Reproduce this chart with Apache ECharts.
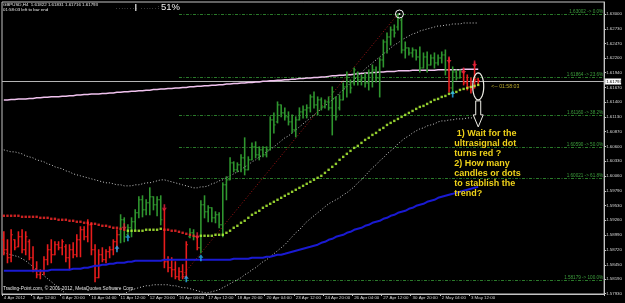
<!DOCTYPE html>
<html><head><meta charset="utf-8">
<script src="https://cdn.jsdelivr.net/npm/echarts@6/dist/echarts.min.js"></script>
<style>html,body{margin:0;padding:0;background:#000;}#c{width:625px;height:303px;}</style>
</head><body><div id="c"></div>
<script>
// ---------------- DATA ----------------
const symbolName = 'GBPUSD,H4';
const timeLeft = '01:58:03';
const xTickLabels = ['4 Apr 2012','5 Apr 12:00','6 Apr 20:00','10 Apr 04:00','11 Apr 12:00','12 Apr 20:00','16 Apr 04:00','17 Apr 12:00','18 Apr 20:00','20 Apr 04:00','23 Apr 12:00','24 Apr 20:00','26 Apr 04:00','27 Apr 12:00','30 Apr 20:00','2 May 04:00','3 May 12:00'];
const yTickValues = [1.57930,1.58190,1.58450,1.58720,1.58990,1.59260,1.59530,1.59790,1.60060,1.60330,1.60600,1.60870,1.61130,1.61400,1.61670,1.61940,1.62200,1.62470,1.62730,1.63000];

const barOpen = [1.58904,1.58723,1.58578,1.58904,1.58777,1.58959,1.58723,1.58868,1.58578,1.58360,
1.58270,1.58324,1.58542,1.58723,1.58632,1.58814,1.58759,1.58777,1.58578,1.58723,
1.58632,1.58904,1.59086,1.58959,1.59176,1.58723,1.58215,1.58632,1.58542,1.58687,
1.58723,1.58868,1.58995,1.59267,1.58995,1.59122,1.59231,1.59394,1.59630,1.59448,
1.59575,1.59684,1.59539,1.59630,1.59448,1.58505,1.58397,1.58360,1.58233,1.58324,
1.58233,1.58959,1.59031,1.58959,1.58759,1.59539,1.59412,1.59485,1.59303,1.59358,
1.59176,1.59902,1.59992,1.60300,1.60174,1.60264,1.60391,1.60174,1.60355,1.60591,
1.60446,1.60536,1.60446,1.60536,1.61080,1.61044,1.61352,1.61207,1.61135,1.61044,
1.60899,1.61080,1.61225,1.61261,1.61298,1.61497,1.61352,1.61443,1.61316,1.61406,
1.61298,1.61479,1.61298,1.61443,1.61678,1.61769,1.61751,1.61932,1.61805,1.61842,
1.61751,1.61932,1.61987,1.61842,1.62168,1.62494,1.62585,1.62712,1.62766,1.62893,
1.62349,1.62386,1.62295,1.62349,1.62222,1.62023,1.62222,1.62077,1.62204,1.62114,
1.62204,1.62259,1.61987,1.61660,1.61950,1.61842,1.61950,1.61751,1.61678,1.61660,
1.61822];
const barHigh = [1.59049,1.58904,1.59086,1.58904,1.59049,1.59086,1.59049,1.58904,1.58777,1.58505,
1.58360,1.58596,1.58814,1.58904,1.58868,1.58868,1.58904,1.58814,1.58814,1.58850,
1.58995,1.59140,1.59140,1.59267,1.59213,1.58814,1.58723,1.58759,1.58723,1.58777,
1.58904,1.59086,1.59358,1.59303,1.59176,1.59303,1.59448,1.59684,1.59702,1.59630,
1.59847,1.59684,1.59684,1.59702,1.59448,1.58596,1.58578,1.58505,1.58397,1.58451,
1.58868,1.59104,1.59086,1.58959,1.59612,1.59702,1.59521,1.59485,1.59412,1.59394,
1.59938,1.60047,1.60391,1.60319,1.60300,1.60446,1.60754,1.60409,1.60663,1.60681,
1.60591,1.60591,1.60591,1.61135,1.61207,1.61406,1.61352,1.61298,1.61225,1.61171,
1.61135,1.61298,1.61334,1.61352,1.61533,1.61588,1.61497,1.61479,1.61443,1.61497,
1.61678,1.61497,1.61533,1.61751,1.61950,1.61805,1.62023,1.61950,1.61896,1.61932,
1.61987,1.62077,1.62041,1.62204,1.62531,1.62658,1.62766,1.62803,1.63002,1.62930,
1.62494,1.62386,1.62386,1.62349,1.62404,1.62295,1.62313,1.62259,1.62295,1.62259,
1.62313,1.62349,1.62204,1.62041,1.61987,1.61987,1.61987,1.61896,1.61842,1.62114,
1.61831];
const barLow = [1.58632,1.58487,1.58505,1.58723,1.58777,1.58669,1.58632,1.58542,1.58324,1.58215,
1.58197,1.58270,1.58451,1.58487,1.58632,1.58723,1.58632,1.58505,1.58360,1.58578,
1.58596,1.58596,1.58904,1.58868,1.58632,1.58143,1.58215,1.58505,1.58487,1.58578,
1.58632,1.58723,1.58850,1.58868,1.58977,1.58959,1.59086,1.59303,1.59321,1.59358,
1.59358,1.59448,1.59340,1.59176,1.58397,1.58324,1.58233,1.58197,1.58179,1.58197,
1.58215,1.58941,1.58904,1.58723,1.58669,1.59303,1.59231,1.59231,1.59213,1.59122,
1.58959,1.59630,1.59992,1.60137,1.60137,1.60137,1.60083,1.60174,1.60355,1.60391,
1.60355,1.60409,1.60409,1.60536,1.60844,1.61026,1.61135,1.61080,1.60989,1.60844,
1.60772,1.61080,1.61116,1.61116,1.61225,1.61298,1.61171,1.61261,1.61298,1.61261,
1.60808,1.61080,1.61261,1.61443,1.61497,1.61570,1.61715,1.61715,1.61715,1.61678,
1.61624,1.61678,1.61769,1.61497,1.62041,1.62295,1.62440,1.62585,1.62712,1.62295,
1.62204,1.62259,1.62222,1.62168,1.61950,1.62023,1.61950,1.62077,1.62023,1.62077,
1.62114,1.61896,1.61588,1.61570,1.61805,1.61842,1.61715,1.61624,1.61570,1.61660,
1.61716];
const barClose = [1.58723,1.58578,1.58995,1.58759,1.58959,1.58723,1.58959,1.58578,1.58360,1.58270,
1.58324,1.58542,1.58723,1.58632,1.58814,1.58759,1.58868,1.58578,1.58723,1.58632,
1.58904,1.59086,1.58959,1.59176,1.58723,1.58215,1.58632,1.58542,1.58687,1.58723,
1.58868,1.58995,1.59267,1.58959,1.59122,1.59231,1.59394,1.59630,1.59448,1.59575,
1.59684,1.59539,1.59630,1.59267,1.58505,1.58397,1.58360,1.58233,1.58324,1.58233,
1.58814,1.59031,1.58959,1.58759,1.59539,1.59412,1.59485,1.59303,1.59358,1.59176,
1.59902,1.59992,1.60300,1.60174,1.60264,1.60391,1.60174,1.60355,1.60591,1.60446,
1.60536,1.60446,1.60536,1.61080,1.60989,1.61352,1.61207,1.61135,1.61044,1.60899,
1.61080,1.61225,1.61261,1.61298,1.61497,1.61352,1.61443,1.61316,1.61406,1.61298,
1.61588,1.61135,1.61443,1.61678,1.61896,1.61660,1.61987,1.61805,1.61842,1.61751,
1.61932,1.61987,1.61842,1.62168,1.62494,1.62585,1.62712,1.62658,1.62930,1.62349,
1.62386,1.62295,1.62349,1.62222,1.62023,1.62222,1.62077,1.62204,1.62114,1.62204,
1.62259,1.61987,1.61660,1.61950,1.61842,1.61950,1.61751,1.61678,1.61624,1.61805,
1.61793];
const barTrend = ('RRRRRRRRRR'+'RRRRRRRRRR'+'RRRRRRRRRR'+'RRGGGGGGGG'+'GGGGRRRRRR'+
  'RGGRGGGGGG'+'GGGGGGGGGG'+'GGGGGGGGGG'+'GGGGGGGGGG'+'GGGGGGGGGG'+'GGGGGGGGGG'+'GGGGGGGGGG'+'GGRGGGRRRR'+'R').split('');

const ultraSignal = [1.59340,1.59340,1.59340,1.59340,1.59340,1.59321,1.59321,1.59321,1.59321,1.59321,
1.59303,1.59303,1.59303,1.59285,1.59285,1.59267,1.59267,1.59267,1.59249,1.59249,
1.59231,1.59231,1.59213,1.59213,1.59194,1.59194,1.59176,1.59158,1.59158,1.59140,
1.59122,1.59122,1.59104,1.59086,1.59068,1.59068,1.59068,1.59068,1.59068,1.59086,
1.59086,1.59086,1.59086,1.59104,1.59086,1.59086,1.59068,1.59068,1.59049,1.59031,
1.59013,1.58995,1.58977,1.58959,1.58977,1.58977,1.58977,1.58977,1.58995,1.58995,
1.58995,1.59031,1.59068,1.59122,1.59158,1.59213,1.59249,1.59303,1.59358,1.59394,
1.59430,1.59485,1.59521,1.59557,1.59593,1.59630,1.59666,1.59702,1.59738,1.59775,
1.59811,1.59847,1.59883,1.59920,1.59956,1.59992,1.60029,1.60065,1.60119,1.60174,
1.60228,1.60282,1.60355,1.60409,1.60464,1.60518,1.60572,1.60609,1.60663,1.60717,
1.60754,1.60808,1.60844,1.60899,1.60935,1.60989,1.61026,1.61062,1.61098,1.61135,
1.61171,1.61207,1.61243,1.61280,1.61316,1.61334,1.61370,1.61406,1.61443,1.61461,
1.61497,1.61515,1.61552,1.61570,1.61588,1.61624,1.61642,1.61660,1.61678,1.61697,
1.61715];
const ultraTrend = ('RRRRRRRRRR'+'RRRRRRRRRR'+'RRRRRRRRRR'+'RRRRGGGGGG'+'GGGGRRRRRR'+'RRRRGGGGGG'+
  'GGGGGGGGGG'+'GGGGGGGGGG'+'GGGGGGGGGG'+'GGGGGGGGGG'+'GGGGGGGGGG'+'GGGGGGGGGG'+'GGGGGGGGGG'+'G').split('');

const maBlue = [1.58342,1.58342,1.58342,1.58342,1.58342,1.58342,1.58342,1.58342,1.58342,1.58342,
1.58342,1.58342,1.58342,1.58360,1.58360,1.58360,1.58360,1.58360,1.58360,1.58379,
1.58379,1.58379,1.58397,1.58397,1.58415,1.58433,1.58433,1.58451,1.58451,1.58469,
1.58469,1.58487,1.58487,1.58487,1.58505,1.58505,1.58524,1.58524,1.58524,1.58524,
1.58524,1.58524,1.58524,1.58524,1.58542,1.58542,1.58542,1.58542,1.58542,1.58542,
1.58542,1.58542,1.58542,1.58542,1.58542,1.58542,1.58542,1.58542,1.58542,1.58542,
1.58542,1.58542,1.58542,1.58560,1.58560,1.58560,1.58560,1.58560,1.58578,1.58578,
1.58578,1.58578,1.58596,1.58596,1.58614,1.58632,1.58632,1.58650,1.58669,1.58687,
1.58705,1.58723,1.58741,1.58759,1.58777,1.58796,1.58814,1.58850,1.58868,1.58904,
1.58922,1.58959,1.58977,1.58995,1.59031,1.59049,1.59086,1.59104,1.59122,1.59158,
1.59176,1.59213,1.59231,1.59249,1.59285,1.59303,1.59340,1.59358,1.59394,1.59412,
1.59430,1.59466,1.59485,1.59521,1.59539,1.59557,1.59593,1.59612,1.59630,1.59666,
1.59684,1.59702,1.59720,1.59738,1.59757,1.59775,1.59793,1.59811,1.59829,1.59847,
1.59865];
const maPink = [1.6144,1.6144,1.6145,1.6145,1.6146,1.6146,1.6146,1.6147,1.6147,1.6148,
1.6148,1.6149,1.6149,1.6150,1.6150,1.6150,1.6151,1.6151,1.6152,1.6152,
1.6153,1.6153,1.6154,1.6154,1.6155,1.6155,1.6155,1.6156,1.6156,1.6157,
1.6157,1.6158,1.6158,1.6159,1.6159,1.6160,1.6160,1.6161,1.6161,1.6162,
1.6162,1.6163,1.6163,1.6164,1.6164,1.6165,1.6165,1.6166,1.6166,1.6167,
1.6167,1.6168,1.6168,1.6169,1.6169,1.6170,1.6170,1.6171,1.6171,1.6172,
1.6172,1.6173,1.6173,1.6174,1.6174,1.6175,1.6175,1.6176,1.6176,1.6177,
1.6177,1.6178,1.6178,1.6179,1.6179,1.6180,1.6180,1.6181,1.6181,1.6182,
1.6182,1.6183,1.6183,1.6184,1.6184,1.6185,1.6185,1.6186,1.6186,1.6187,
1.6188,1.6188,1.6189,1.6189,1.6190,1.6190,1.6191,1.6192,1.6192,1.6193,
1.6193,1.6194,1.6194,1.6195,1.6195,1.6196,1.6196,1.6196,1.6197,1.6197,
1.6197,1.6197,1.6198,1.6198,1.6198,1.6198,1.6198,1.6198,1.6198,1.6199,
1.6199,1.6199,1.6199,1.6199,1.6199,1.6199,1.6200,1.6200,1.6200,1.6200,
1.6200];
const bandUpper = [1.60536,1.60518,1.60500,1.60500,1.60482,1.60464,1.60427,1.60409,1.60391,1.60355,
1.60337,1.60319,1.60282,1.60264,1.60228,1.60210,1.60192,1.60155,1.60137,1.60101,
1.60083,1.60065,1.60047,1.60029,1.60010,1.59992,1.59974,1.59956,1.59938,1.59938,
1.59920,1.59902,1.59902,1.59883,1.59883,1.59883,1.59902,1.59902,1.59920,1.59938,
1.59938,1.59956,1.59974,1.59992,1.59992,1.59974,1.59956,1.59938,1.59920,1.59902,
1.59883,1.59865,1.59847,1.59847,1.59865,1.59865,1.59883,1.59920,1.59938,1.59974,
1.59992,1.60029,1.60065,1.60101,1.60137,1.60174,1.60228,1.60264,1.60319,1.60355,
1.60409,1.60446,1.60500,1.60536,1.60591,1.60645,1.60699,1.60754,1.60790,1.60844,
1.60899,1.60953,1.61008,1.61062,1.61116,1.61171,1.61225,1.61280,1.61334,1.61388,
1.61443,1.61497,1.61570,1.61624,1.61678,1.61751,1.61805,1.61878,1.61932,1.62005,
1.62059,1.62114,1.62168,1.62222,1.62277,1.62331,1.62386,1.62440,1.62476,1.62531,
1.62567,1.62603,1.62640,1.62658,1.62694,1.62712,1.62730,1.62748,1.62766,1.62785,
1.62785,1.62803,1.62803,1.62821,1.62821,1.62821,1.62839,1.62839,1.62839,1.62839,
1.62839];
const bandLower = [1.58669,1.58650,1.58632,1.58614,1.58596,1.58560,1.58524,1.58469,1.58415,1.58360,
1.58306,1.58252,1.58197,1.58143,1.58088,1.58034,1.57980,1.57925,1.57871,1.57835,
1.57798,1.57780,1.57762,1.57744,1.57726,1.57726,1.57726,1.57744,1.57762,1.57780,
1.57816,1.57853,1.57889,1.57925,1.57961,1.57998,1.58016,1.58034,1.58052,1.58070,
1.58070,1.58088,1.58088,1.58088,1.58088,1.58088,1.58070,1.58070,1.58052,1.58034,
1.58034,1.58016,1.57998,1.57980,1.57961,1.57943,1.57943,1.57961,1.57980,1.57998,
1.58034,1.58070,1.58107,1.58143,1.58179,1.58215,1.58270,1.58306,1.58360,1.58397,
1.58451,1.58505,1.58542,1.58596,1.58650,1.58705,1.58759,1.58814,1.58886,1.58959,
1.59031,1.59086,1.59158,1.59231,1.59285,1.59340,1.59394,1.59448,1.59503,1.59557,
1.59593,1.59630,1.59666,1.59720,1.59757,1.59811,1.59865,1.59938,1.59992,1.60065,
1.60137,1.60210,1.60264,1.60337,1.60391,1.60464,1.60518,1.60572,1.60645,1.60699,
1.60754,1.60790,1.60844,1.60881,1.60917,1.60935,1.60971,1.60989,1.61008,1.61044,
1.61062,1.61062,1.61080,1.61080,1.61098,1.61098,1.61098,1.61116,1.61116,1.61116,
1.61116];
const arrowsDown = [[33,1.59140],[44,1.59485],[53,1.58977],[122,1.62168],[126,1.61969],[129,1.62096]];
const arrowsUp = [[31,1.58741],[34,1.58941],[50,1.58197],[54,1.58578],[123,1.61552]];
const fibLevels = [0, 23.6, 38.2, 50.0, 61.8, 100.0];
const fibPrices = [1.63002, 1.61864, 1.61160, 1.60590, 1.60021, 1.58179];
const fibStartIndex = 48, fibEndIndex = 108;
const highMark = [108, 1.63002];
const ellipseMark = [130, 1.61688];
const noteLines = [' 1) Wait for the','ultrasignal dot','turns red ?','2) How many','candles or dots','to stablish the','trend?'];
const copyright = 'Trading-Point.com, \u00a9 2001-2012, MetaQuotes Software Corp.';
const barProgress = '51%';

// ---------------- CHART ----------------
const N = barOpen.length;
const SLOTS = 165;
const cats = Array.from({length: SLOTS}, (_, i) => String(i));
const currentPrice = barClose[N - 1];
const FONT = '"Liberation Sans", Arial, sans-serif';
const GREEN = '#2f962f', RED = '#e81c1c';
const isTick = (i) => i % 8 === 0 && i / 8 < xTickLabels.length;

const chart = echarts.init(document.getElementById('c'), null, {renderer: 'canvas'});

const option = {
  backgroundColor: '#000',
  animation: false,
  grid: {left: 2, right: 17, top: 2, bottom: 9, show: true, borderColor: '#c4c4c4', borderWidth: 1},
  xAxis: {
    type: 'category', data: cats, boundaryGap: true,
    axisLine: {show: true, lineStyle: {color: '#c4c4c4', width: 1}},
    axisTick: {show: true, interval: isTick, length: 2, lineStyle: {color: '#c4c4c4'}},
    axisLabel: {interval: isTick, formatter: (v) => xTickLabels[Number(v) / 8], color: '#d4d4d4',
      fontSize: 4.4, fontFamily: FONT, align: 'left', margin: 1.5},
    splitLine: {show: false}
  },
  yAxis: {
    type: 'value', position: 'right', min: 1.5792, max: 1.6322,
    splitLine: {show: false},
    axisLine: {show: true, lineStyle: {color: '#c4c4c4'}},
    axisTick: {show: true, customValues: yTickValues, length: 2, lineStyle: {color: '#c4c4c4'}},
    axisLabel: {customValues: yTickValues, formatter: (v) => v.toFixed(5), color: '#d4d4d4',
      fontSize: 4.4, fontFamily: FONT, margin: 2}
  },
  series: [
    { // Fibonacci levels
      type: 'custom', name: 'fib', z: 1,
      data: fibPrices.map((p, k) => [fibStartIndex, p, k]),
      encode: {x: 0, y: 1},
      renderItem: (params, api) => {
        const k = api.value(2);
        const pt = api.coord([api.value(0), api.value(1)]);
        const cs = params.coordSys;
        const xe = cs.x + cs.width;
        const y = Math.round(pt[1]) + 0.5;
        return {type: 'group', children: [
          {type: 'line', shape: {x1: pt[0], y1: y, x2: xe, y2: y},
            style: {stroke: '#2a7a2a', lineWidth: 1, lineDash: [3, 1.5, 1, 1.5]}},
          {type: 'text', style: {text: fibPrices[k].toFixed(5) + ' -> ' + fibLevels[k].toFixed(1) + '%',
            x: xe - 1, y: y - 0.3, align: 'right', verticalAlign: 'bottom', textAlign: 'right', textVerticalAlign: 'bottom',
            fill: '#3d9f3d', font: '4.6px ' + FONT}}
        ]};
      }
    },
    { // Fibonacci trend line
      type: 'line', name: 'fibTrend', z: 1, showSymbol: false, silent: true,
      data: [[fibStartIndex, fibPrices[5]], [fibEndIndex, fibPrices[0]]],
      lineStyle: {color: '#a51616', width: 1, type: [1, 2]}
    },
    { // bid line with price box
      type: 'custom', name: 'bid', z: 2,
      data: [[N - 1, currentPrice]],
      encode: {x: 0, y: 1},
      renderItem: (params, api) => {
        const pt = api.coord([api.value(0), api.value(1)]);
        const cs = params.coordSys;
        const y = Math.round(pt[1]) + 0.5;
        const xe = cs.x + cs.width;
        return {type: 'group', children: [
          {type: 'line', shape: {x1: cs.x, y1: y, x2: xe, y2: y}, style: {stroke: '#b4b4b4', lineWidth: 1}},
          {type: 'rect', shape: {x: xe + 1, y: y - 3, width: 16, height: 6}, style: {fill: '#ffffff'}},
          {type: 'text', style: {text: api.value(1).toFixed(5), x: xe + 2, y: y, textVerticalAlign: 'middle', verticalAlign: 'middle',
            fill: '#000', font: '4.4px ' + FONT}}
        ]};
      }
    },
    {type: 'line', name: 'upper', data: bandUpper, showSymbol: false, z: 2,
      lineStyle: {color: '#c8c8c8', width: 1, type: [1, 2]}},
    {type: 'line', name: 'lower', data: bandLower, showSymbol: false, z: 2,
      lineStyle: {color: '#c8c8c8', width: 1, type: [1, 2]}},
    {type: 'line', name: 'slowMA', data: maPink, showSymbol: false, z: 2,
      lineStyle: {color: '#f0c2ee', width: 1.5}},
    { // OHLC bars
      type: 'custom', name: 'bars', z: 3,
      data: barOpen.map((o, i) => [i, o, barHigh[i], barLow[i], barClose[i], barTrend[i] === 'G' ? 1 : 0]),
      encode: {x: 0, y: [1, 2, 3, 4]},
      renderItem: (params, api) => {
        const i = api.value(0);
        const ph = api.coord([i, api.value(2)]);
        const pl = api.coord([i, api.value(3)]);
        const po = api.coord([i, api.value(1)]);
        const pc = api.coord([i, api.value(4)]);
        const col = api.value(5) ? GREEN : RED;
        return {type: 'group', children: [
          {type: 'line', shape: {x1: ph[0], y1: ph[1] - 0.5, x2: pl[0], y2: pl[1] + 0.5}, style: {stroke: col, lineWidth: 1.6}},
          {type: 'line', shape: {x1: po[0] - 1.7, y1: po[1], x2: po[0], y2: po[1]}, style: {stroke: col, lineWidth: 1}},
          {type: 'line', shape: {x1: pc[0], y1: pc[1], x2: pc[0] + 1.7, y2: pc[1]}, style: {stroke: col, lineWidth: 1}}
        ]};
      }
    },
    {type: 'line', name: 'fastMA', data: maBlue, showSymbol: false, z: 4,
      lineStyle: {color: '#1a1ad2', width: 2}},
    {type: 'scatter', name: 'ultrasignal', z: 5,
      data: ultraSignal.map((v, i) => [i, v]),
      symbol: 'rect', symbolSize: 2.4,
      itemStyle: {color: (p) => ultraTrend[p.dataIndex] === 'R' ? '#ff2b2b' : '#b6ff3a'}},
    {type: 'scatter', name: 'sell', z: 6, data: arrowsDown,
      symbol: 'path://M2,0 L4,0 L4,4 L6,4 L3,8 L0,4 L2,4 Z', symbolSize: [5, 7],
      itemStyle: {color: '#e8223c'}},
    {type: 'scatter', name: 'buy', z: 6, data: arrowsUp,
      symbol: 'path://M3,0 L6,4 L4,4 L4,8 L2,8 L2,4 L0,4 Z', symbolSize: [5, 7],
      itemStyle: {color: '#27aef2'}}
  ]
};
chart.setOption(option);

// ---------------- ANNOTATIONS ----------------
const toPx = (pt) => chart.convertToPixel({gridIndex: 0}, pt);
const hp = toPx(highMark);
const ep = toPx(ellipseMark);
const rx = 5.5, ry = 13.5;
const ellipsePts = [];
for (let k = 0; k <= 40; k++) {
  const a = k / 40 * Math.PI * 2;
  ellipsePts.push([ep[0] + rx * Math.cos(a), ep[1] + ry * Math.sin(a)]);
}
const at = ep[1] + ry + 1;
const arrowPts = [[ep[0] - 2.5, at], [ep[0] + 2.5, at], [ep[0] + 2.5, at + 14], [ep[0] + 5, at + 14],
  [ep[0], at + 26], [ep[0] - 5, at + 14], [ep[0] - 2.5, at + 14]];
const last = N - 1;
const infoLine = symbolName + '  ' + barOpen[last].toFixed(5) + ' ' + barHigh[last].toFixed(5) + ' ' +
  barLow[last].toFixed(5) + ' ' + barClose[last].toFixed(5);

chart.setOption({graphic: [
  {type: 'circle', shape: {cx: hp[0] + 1.5, cy: hp[1], r: 4}, style: {stroke: '#f4f4f4', fill: 'none', lineWidth: 1}, z: 50},
  {type: 'circle', shape: {cx: hp[0] + 1.5, cy: hp[1], r: 1}, style: {fill: '#f4f4f4'}, z: 50},
  {type: 'polyline', shape: {points: ellipsePts}, style: {stroke: '#f0f0e8', fill: 'none', lineWidth: 1.2}, z: 50},
  {type: 'polygon', shape: {points: arrowPts}, style: {stroke: '#f0f0e8', fill: '#000', lineWidth: 1}, z: 50},
  {type: 'text', x: ep[0] + 13, y: ep[1] - 2.5, style: {text: '<-- ' + timeLeft, fill: '#b8a82a', font: '5.2px ' + FONT}, z: 50},
  {type: 'text', x: ep[0] - 24, y: at + 28, style: {text: noteLines.join('\n'), fill: '#efd21a',
    font: 'bold 9px ' + FONT, lineHeight: 10}, z: 50},
  {type: 'text', x: 3, y: 2.5, style: {text: infoLine, fill: '#e6e6e6', font: '4.4px ' + FONT}, z: 50},
  {type: 'text', x: 3, y: 7.5, style: {text: timeLeft + ' left to bar end', fill: '#e6e6e6', font: '4.4px ' + FONT}, z: 50},
  {type: 'text', x: 116, y: 5.5, style: {text: '. . . . . . . .   . . . . . . :', fill: '#d0d0d0', font: '5px ' + FONT}, z: 50},
  {type: 'rect', shape: {x: 135, y: 4, width: 1.5, height: 7}, style: {fill: '#bcbcbc'}, z: 50},
  {type: 'text', x: 161, y: 2, style: {text: barProgress, fill: '#f0f0f0', font: '9.5px ' + FONT}, z: 50},
  {type: 'text', x: 3, y: 286.5, style: {text: copyright, fill: '#e6e6e6', font: '4.8px ' + FONT}, z: 50}
]});
</script>
</body></html>
